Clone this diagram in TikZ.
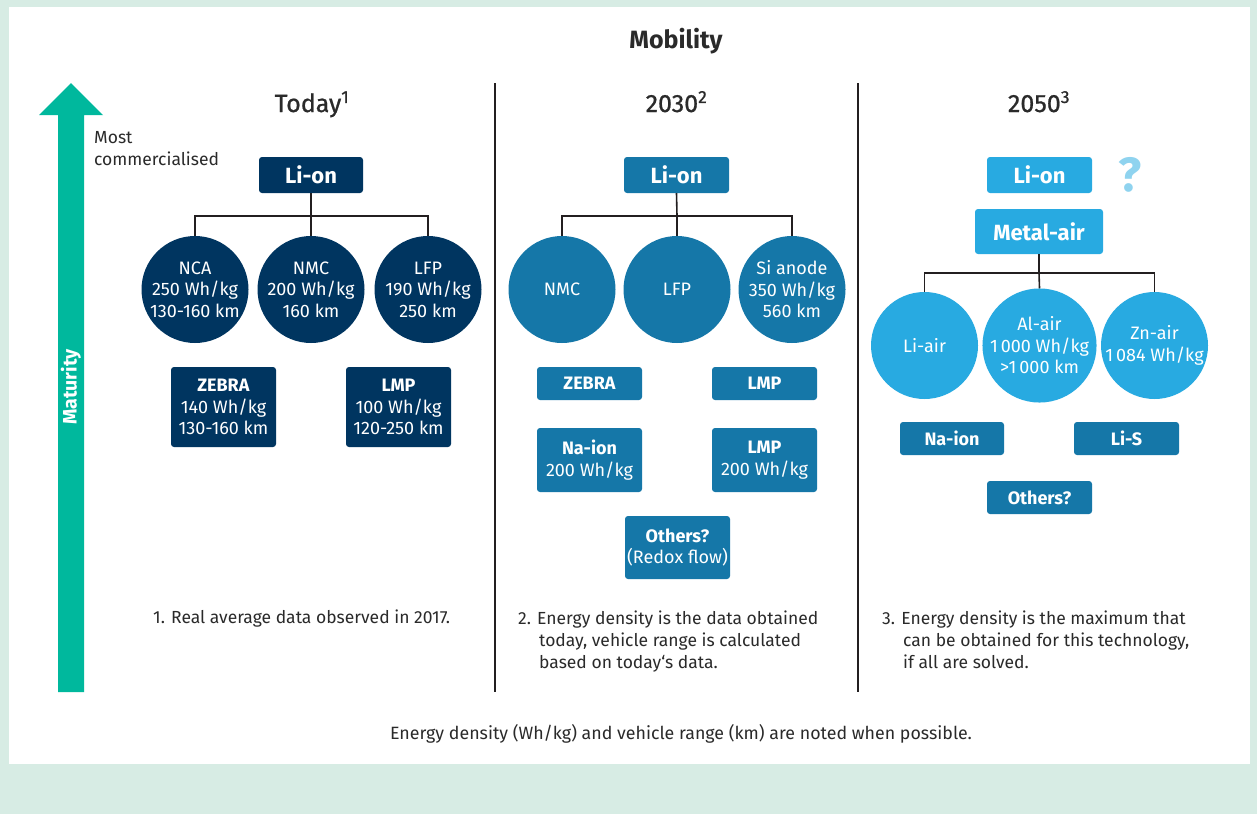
\documentclass[tikz,border=0pt]{standalone}
\usepackage{fontspec}
\setmainfont{Fira Sans}
\definecolor{bggreen}{HTML}{D7ECE4}
\definecolor{tealc}{HTML}{00B89D}
\definecolor{navy}{HTML}{003560}
\definecolor{midblue}{HTML}{1577A8}
\definecolor{lightblue}{HTML}{28AAE1}
\definecolor{qmark}{HTML}{8FD3EF}
\definecolor{linegray}{HTML}{231F20}
\definecolor{txt}{HTML}{2A2A2A}
\newcommand\fsz[2]{\fontsize{#1}{#2}\selectfont}
\begin{document}
\begin{tikzpicture}[x=1pt,y=-1pt,
  box/.style={rectangle, rounded corners=3pt, inner sep=0pt, text=white, align=center, font=\fsz{18}{21.5}},
  circ/.style={circle, minimum size=107pt, inner sep=0pt, text=white, align=center, font=\fsz{18}{21.5}},
  tree/.style={line width=1.6pt, draw=linegray},
  divider/.style={line width=1.8pt, draw=linegray},
  note/.style={inner sep=0pt, text=txt, font=\fsz{17.5}{22}, align=left},
  header/.style={inner sep=0pt, text=txt, font=\fsz{25}{28}\addfontfeatures{FakeBold=0.8}},
  darkbox/.style={box, fill=navy},
  midbox/.style={box, fill=midblue},
  lightbox/.style={box, fill=lightblue},
]
\useasboundingbox (0,0) rectangle (1257,814);
\fill[bggreen] (0,0) rectangle (1257,814);
\fill[white] (9,7) rectangle (1250,764);

% maturity arrow
\fill[tealc] (58,692) -- (58,115) -- (39,115) -- (71,83) -- (103,115) -- (84,115) -- (84,692) -- cycle;
\node[rotate=90, text=white, font=\fsz{19.5}{22}\bfseries, inner sep=0pt] (maturity) at (71,387) {Maturity};
\node[note, anchor=north west] (mostc) at (94,131) {Most\\commercialised};

% title and headers
\node[header, anchor=base, font=\fsz{25}{28}\bfseries] (title) at (676,48) {Mobility};
\node[header, anchor=base] (today) at (312,112) {Today\textsuperscript{1}};
\node[header, anchor=base] (y2030) at (676.5,112) {2030\textsuperscript{2}};
\node[header, anchor=base] (y2050) at (1039,112) {2050\textsuperscript{3}};

% dividers
\draw[divider] (495,83) -- (495,692);
\draw[divider] (858,83) -- (858,692);

% ---------- Today ----------
\node[darkbox, minimum width=104pt, minimum height=36pt, font=\fsz{22}{24}\bfseries] (lion1) at (311,175) {Li-on};
\node[circ, fill=navy] (nca1) at (195,289.5) {NCA\\250 Wh/kg\\130-160 km};
\node[circ, fill=navy] (nmc1) at (311,289.5) {NMC\\200 Wh/kg\\160 km};
\node[circ, fill=navy] (lfp1) at (428,289.5) {LFP\\190 Wh/kg\\250 km};
\coordinate (j1) at (311,216);
\draw[tree] (lion1.south) -- (j1);
\draw[tree] (nca1.north) |- (j1);
\draw[tree] (nmc1.north) -- (j1);
\draw[tree] (lfp1.north) |- (j1);
\node[darkbox, minimum width=105pt, minimum height=80pt] (zebra1) at (223.5,407) {\textbf{ZEBRA}\\140 Wh/kg\\130-160 km};
\node[darkbox, minimum width=105pt, minimum height=80pt] (lmp1) at (398.5,407) {\textbf{LMP}\\100 Wh/kg\\120-250 km};
\node[note, anchor=base west] (fn1) at (153,623) {1. Real average data observed in 2017.};

% ---------- 2030 ----------
\node[midbox, minimum width=105pt, minimum height=36pt, font=\fsz{22}{24}\bfseries] (lion2) at (676.5,175) {Li-on};
\node[circ, fill=midblue] (nmc2) at (562,289.5) {NMC};
\node[circ, fill=midblue] (lfp2) at (677,289.5) {LFP};
\node[circ, fill=midblue] (si2) at (792,289.5) {Si anode\\350 Wh/kg\\560 km};
\coordinate (j2) at (677,216);
\draw[tree] (lion2.south) -- (j2);
\draw[tree] (nmc2.north) |- (j2);
\draw[tree] (lfp2.north) -- (j2);
\draw[tree] (si2.north) |- (j2);
\node[midbox, minimum width=105pt, minimum height=33pt, font=\fsz{18}{21.5}\bfseries] (zebra2) at (589.5,383.5) {ZEBRA};
\node[midbox, minimum width=105pt, minimum height=33pt, font=\fsz{18}{21.5}\bfseries] (lmp2) at (764.5,383.5) {LMP};
\node[midbox, minimum width=105pt, minimum height=64pt] (naion2) at (589.5,460) {\textbf{Na-ion}\\200 Wh/kg};
\node[midbox, minimum width=105pt, minimum height=64pt] (lmpb2) at (764.5,460) {\textbf{LMP}\\200 Wh/kg};
\node[midbox, minimum width=105pt, minimum height=63pt] (others2) at (677.5,547.5) {\textbf{Others?}\\(Redox flow)};
\node[note, anchor=north west] (fn2) at (518,610.5) {2. Energy density is the data obtained\\\hspace*{21pt}today, vehicle range is calculated\\\hspace*{21pt}based on today‘s data.};

% ---------- 2050 ----------
\node[lightbox, minimum width=105pt, minimum height=36pt, font=\fsz{22}{24}\bfseries] (lion3) at (1039.5,175) {Li-on};
\node[inner sep=0pt, text=qmark, font=\fsz{48}{48}\bfseries] (qm) at (1130,175) {?};
\node[lightbox, minimum width=128pt, minimum height=45pt, font=\fsz{22}{24}\bfseries] (metal3) at (1039,231.5) {Metal-air};
\node[circ, fill=lightblue] (liair3) at (924.5,345.5) {Li-air};
\node[circ, fill=lightblue] (alair3) at (1039.5,345.5) {Al-air\\1\,000 Wh/kg\\>1\,000 km};
\node[circ, fill=lightblue] (znair3) at (1154.5,345.5) {Zn-air\\1\,084 Wh/kg};
\coordinate (j3) at (1039,273);
\draw[tree] (metal3.south) -- (j3);
\draw[tree] (liair3.north) |- (j3);
\draw[tree] (alair3.north) -- (j3);
\draw[tree] (znair3.north) |- (j3);
\node[midbox, minimum width=104pt, minimum height=33pt, font=\fsz{18}{21.5}\bfseries] (naion3) at (952,438.5) {Na-ion};
\node[midbox, minimum width=105pt, minimum height=33pt, font=\fsz{18}{21.5}\bfseries] (lis3) at (1126.5,438.5) {Li-S};
\node[midbox, minimum width=105pt, minimum height=33pt, font=\fsz{18}{21.5}\bfseries] (others3) at (1039.5,497.5) {Others?};
\node[note, anchor=north west] (fn3) at (882,610.5) {3. Energy density is the maximum that\\\hspace*{21pt}can be obtained for this technology,\\\hspace*{21pt}if all are solved.};

% bottom note
\node[note, anchor=base, font=\fsz{17.8}{22}] (bottom) at (681,739) {Energy density (Wh/kg) and vehicle range (km) are noted when possible.};
\end{tikzpicture}
\end{document}
